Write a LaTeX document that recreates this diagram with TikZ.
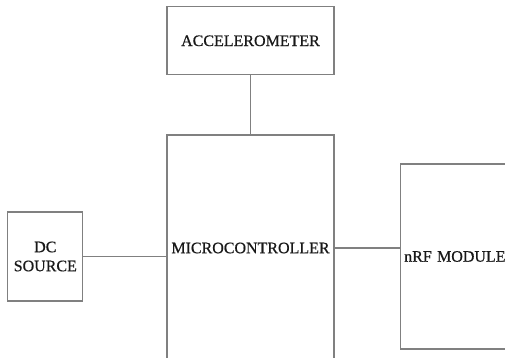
\documentclass[tikz,border=0pt]{standalone}
\usepackage{fontspec}
\setmainfont{Liberation Serif}[FakeBold=0.6]
\usetikzlibrary{positioning}
\tikzstyle{blockbox} = [rectangle, draw=gray, line width=1.2pt, minimum width=167pt,
                        text centered, font=\fontsize{16}{19}\selectfont, text=black!90, inner sep=4pt]
\tikzstyle{wire} = [draw=gray, line width=1.2pt]

\begin{document}
\begin{tikzpicture}[node distance=59pt]
  \clip (0,0) rectangle (505pt,-358pt);

  % Central block
  \node[blockbox, minimum height=226pt] (micro) at (250.5pt,-248pt) {MICROCONTROLLER};

  % Sensor above
  \node[blockbox, minimum height=68pt, above=of micro] (accel) {ACCELEROMETER};

  % Power supply on the left
  \node[blockbox, minimum width=75pt, minimum height=89pt, align=center,
        left=83pt of micro, yshift=-8.5pt] (dc) {DC\\SOURCE};

  % Radio on the right
  \node[blockbox, minimum width=120pt, minimum height=185pt, text width=112pt, align=left,
        right=65pt of micro, yshift=-8.5pt] (nrf) {nRF MODULE};

  % Connections
  \draw[wire] (accel) -- (micro);
  \draw[wire] (dc) -- (dc -| micro.west);
  \draw[wire] (micro) -- (micro -| nrf.west);
\end{tikzpicture}
\end{document}
